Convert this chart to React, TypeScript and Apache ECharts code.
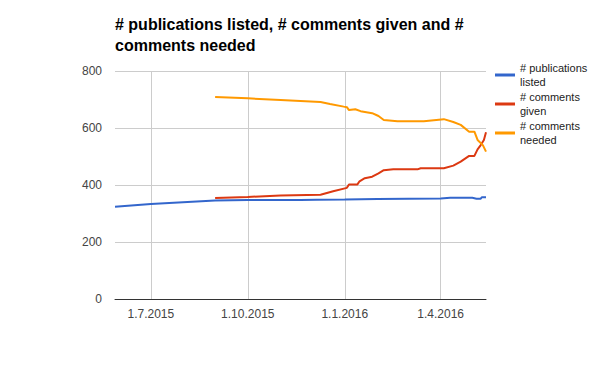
import React, { useEffect, useRef } from "react";
import * as echarts from "echarts";

const seriesNames = ["# publications listed", "# comments given", "# comments needed"];
const legendLabels = ["# publications\nlisted", "# comments\ngiven", "# comments\nneeded"];
const colors = ["#3366cc", "#dc3912", "#ff9900"];

const publicationsDates = ["2015-05-28", "2015-07-01", "2015-08-31", "2015-10-01", "2015-11-20", "2015-12-05", "2016-01-01", "2016-02-01", "2016-03-01", "2016-04-01", "2016-04-10", "2016-05-01", "2016-05-05", "2016-05-09", "2016-05-10", "2016-05-14"];
const publicationsValues = [324, 333, 346, 347, 347, 348, 349, 351, 352, 353, 355, 355, 352, 352, 357, 357];

const givenDates = ["2015-08-31", "2015-10-01", "2015-11-01", "2015-12-09", "2015-12-21", "2016-01-03", "2016-01-05", "2016-01-13", "2016-01-15", "2016-01-20", "2016-01-27", "2016-02-02", "2016-02-07", "2016-02-16", "2016-03-10", "2016-03-13", "2016-04-04", "2016-04-13", "2016-04-20", "2016-04-28", "2016-05-03", "2016-05-06", "2016-05-09", "2016-05-12", "2016-05-14"];
const givenValues = [354, 358, 363, 366, 378, 390, 402, 402, 413, 424, 429, 441, 452, 455, 455, 459, 459, 468, 482, 502, 502, 525, 540, 558, 585];

const neededDates = ["2015-08-31", "2015-10-01", "2015-11-01", "2015-12-09", "2015-12-18", "2015-12-31", "2016-01-03", "2016-01-05", "2016-01-11", "2016-01-16", "2016-01-27", "2016-02-02", "2016-02-07", "2016-02-20", "2016-03-16", "2016-04-04", "2016-04-13", "2016-04-20", "2016-04-28", "2016-05-03", "2016-05-06", "2016-05-11", "2016-05-14"];
const neededValues = [709, 704, 698, 691, 684, 675, 673, 663, 666, 659, 652, 642, 628, 624, 624, 631, 621, 611, 587, 587, 558, 540, 517];

const xMinDate = "2015-05-28";
const xMaxDate = "2016-05-14";
const xTickDates = ["2015-07-01", "2015-10-01", "2016-01-01", "2016-04-01"];
const yTicks = [0, 200, 400, 600, 800];

const FONT = "Arial, 'Liberation Sans', sans-serif";

function ts(d: string): number {
  const [y, m, day] = d.split("-").map(Number);
  return new Date(y, m - 1, day).getTime();
}

function pairs(dates: string[], values: number[]) {
  return dates.map((d, i) => [ts(d), values[i]]);
}

export default function App() {
  const ref = useRef<HTMLDivElement>(null);
  useEffect(() => {
    if (!ref.current) return;
    const chart = echarts.init(ref.current, null, { renderer: "svg" });
    const seriesData = [
      pairs(publicationsDates, publicationsValues),
      pairs(givenDates, givenValues),
      pairs(neededDates, neededValues),
    ];
    const legendTops = [54, 83, 112];
    const tickTs = xTickDates.map(ts);
    chart.setOption({
      animation: false,
      backgroundColor: "#ffffff",
      title: {
        text: "# publications listed, # comments given and #\ncomments needed",
        left: 115,
        top: 14,
        padding: 0,
        textStyle: { fontFamily: FONT, fontSize: 16, fontWeight: "bold", color: "#000", lineHeight: 21 },
      },
      legend: seriesNames.map((n, i) => ({
        data: [n],
        orient: "vertical",
        left: 495,
        top: legendTops[i],
        padding: 0,
        icon: "rect",
        itemWidth: 20,
        itemHeight: 3,
        itemGap: 0,
        itemStyle: { color: colors[i] },
        selectedMode: false,
        formatter: () => legendLabels[i],
        textStyle: {
          fontFamily: FONT,
          fontSize: 11,
          color: "#222",
          lineHeight: 14,
          padding: [14, 0, 0, 0],
        },
      })),
      grid: { left: 115, right: 114, top: 71, bottom: 72, containLabel: false },
      xAxis: {
        type: "value",
        min: ts(xMinDate),
        max: ts(xMaxDate),
        axisLine: { show: true, onZero: false, lineStyle: { color: "#333", width: 1 } },
        axisTick: { show: false, customValues: tickTs },
        splitLine: { show: true, lineStyle: { color: "#cccccc", width: 1 } },
        axisLabel: {
          customValues: tickTs,
          showMinLabel: true,
          showMaxLabel: true,
          fontFamily: FONT,
          fontSize: 12,
          color: "#444",
          margin: 9,
          formatter: (v: number) => {
            const d = new Date(v);
            return `${d.getDate()}.${d.getMonth() + 1}.${d.getFullYear()}`;
          },
        },
      },
      yAxis: {
        type: "value",
        min: yTicks[0],
        max: yTicks[yTicks.length - 1],
        interval: 200,
        axisLine: { show: false },
        axisTick: { show: false },
        splitLine: { show: true, lineStyle: { color: "#cccccc", width: 1 } },
        axisLabel: { fontFamily: FONT, fontSize: 12, color: "#444", margin: 13 },
      },
      series: seriesNames.map((n, i) => ({
        name: n,
        type: "line",
        data: seriesData[i],
        symbol: "none",
        showSymbol: false,
        color: colors[i],
        lineStyle: { color: colors[i], width: 2 },
        z: 3 + i,
      })),
    });
    return () => chart.dispose();
  }, []);
  return (
    <div
      ref={ref}
      style={{ position: "fixed", left: 0, top: 0, width: 600, height: 371 }}
    />
  );
}
